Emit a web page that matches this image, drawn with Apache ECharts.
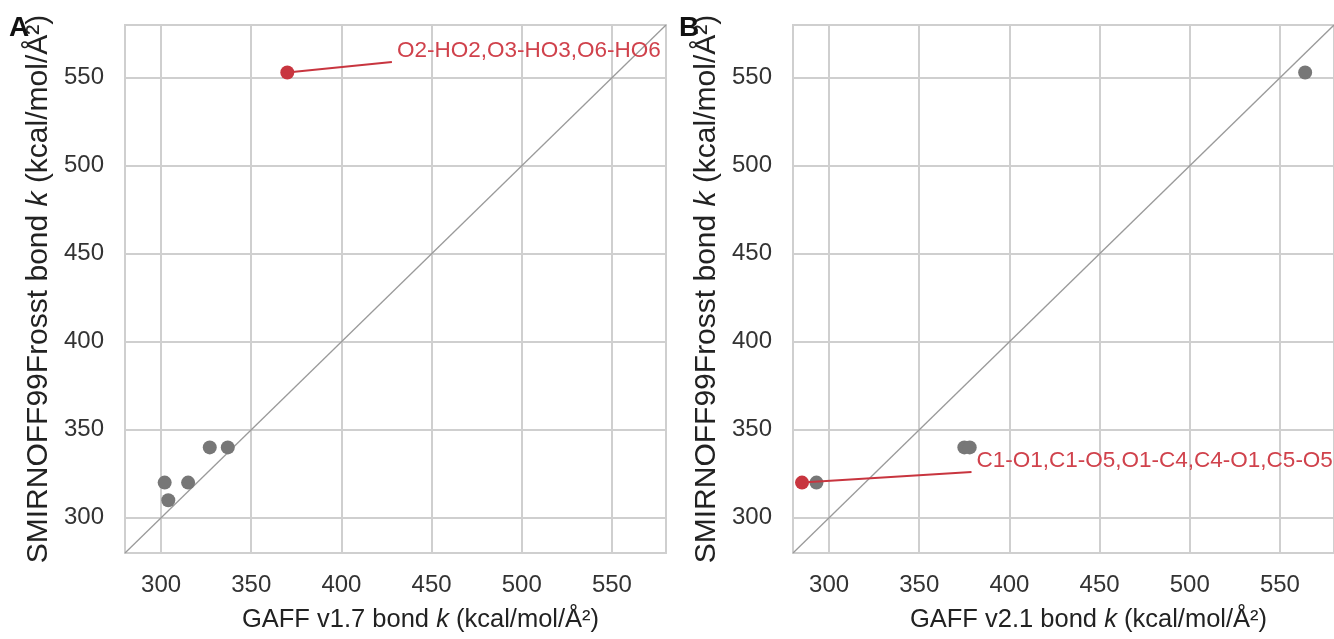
<!DOCTYPE html>
<html>
<head>
<meta charset="utf-8">
<script src="https://cdn.jsdelivr.net/npm/echarts@6/dist/echarts.min.js"></script>
<style>
  html, body { margin: 0; padding: 0; background: #fff; }
  #chart { width: 1334px; height: 639px; }
</style>
</head>
<body>
<div id="chart"></div>
<script>
// Bond force constants: GAFF (x) versus SMIRNOFF99Frosst (y), kcal/mol/Å²
const axisRange = [280, 580];
const tickValues = [300, 350, 400, 450, 500, 550];

// Panel A: GAFF v1.7
const gaffV17 = [302, 304, 315, 327, 337];
const frosstA = [320, 310, 320, 340, 340];
const outlierA_x = [370];
const outlierA_y = [553];
const outlierA_label = 'O2-HO2,O3-HO3,O6-HO6';
const calloutA_end = [428, 559];

// Panel B: GAFF v2.1
const gaffV21 = [293, 375, 378, 564];
const frosstB = [320, 340, 340, 553];
const outlierB_x = [285];
const outlierB_y = [320];
const outlierB_label = 'C1-O1,C1-O5,O1-C4,C4-O1,C5-O5';
const calloutB_end = [379, 326];

const FONT = 'Liberation Sans';
const GRID_COLOR = '#cfcfcf';
const GRAY = '#777777';
const RED = '#c8353f';

const zip = (xs, ys) => xs.map((x, i) => [x, ys[i]]);

function xAxis(gridIndex, version) {
  return {
    type: 'value', gridIndex, min: axisRange[0], max: axisRange[1],
    name: 'GAFF ' + version + ' bond {i|k} (kcal/mol/Å²)',
    nameLocation: 'middle', nameGap: 54,
    nameTextStyle: { fontFamily: FONT, fontSize: 25.5, color: '#222', padding: [0, 0, 0, 50],
      rich: { i: { fontFamily: FONT, fontSize: 25.5, fontStyle: 'italic', color: '#222' } } },
    axisLine: { show: false }, axisTick: { show: false, customValues: tickValues },
    axisLabel: { customValues: tickValues, fontFamily: FONT, fontSize: 24, color: '#333', margin: 20 },
    splitLine: { show: true, lineStyle: { color: GRID_COLOR, width: 2 } }
  };
}
function yAxis(gridIndex) {
  return {
    type: 'value', gridIndex, min: axisRange[0], max: axisRange[1],
    name: 'SMIRNOFF99Frosst bond {i|k} (kcal/mol/Å²)',
    nameLocation: 'middle', nameGap: 71, nameRotate: 90,
    nameTextStyle: { fontFamily: FONT, fontSize: 30, color: '#222',
      rich: { i: { fontFamily: FONT, fontSize: 30, fontStyle: 'italic', color: '#222' } } },
    axisLine: { show: false }, axisTick: { show: false, customValues: tickValues },
    axisLabel: { customValues: tickValues, fontFamily: FONT, fontSize: 24, color: '#333', margin: 21 },
    splitLine: { show: true, lineStyle: { color: GRID_COLOR, width: 2 } }
  };
}

function panelSeries(idx, xs, ys, ox, oy, label, calloutEnd) {
  const pt = zip(ox, oy)[0];
  return [
    { // identity line y = x
      type: 'line', xAxisIndex: idx, yAxisIndex: idx, silent: true, symbol: 'none',
      data: [[axisRange[0], axisRange[0]], [axisRange[1], axisRange[1]]],
      lineStyle: { color: '#9a9a9a', width: 1.3 }, z: 2
    },
    {
      type: 'scatter', xAxisIndex: idx, yAxisIndex: idx, data: zip(xs, ys),
      symbolSize: 14, itemStyle: { color: GRAY, opacity: 1 }, z: 4
    },
    { // callout connector with its label at the far end
      type: 'line', xAxisIndex: idx, yAxisIndex: idx, symbol: 'none',
      data: [pt, calloutEnd],
      endLabel: {
        show: true, distance: 5, offset: [0, -11],
        formatter: label, fontFamily: FONT, fontSize: 22.5, color: '#d0424c'
      },
      lineStyle: { color: RED, width: 2 }, z: 5
    },
    {
      type: 'scatter', xAxisIndex: idx, yAxisIndex: idx, data: zip(ox, oy),
      symbolSize: 14, itemStyle: { color: RED, opacity: 1 }, z: 6
    }
  ];
}

const chart = echarts.init(document.getElementById('chart'), null, { renderer: 'canvas' });
chart.setOption({
  backgroundColor: '#fff',
  animation: false,
  grid: [
    { left: 125, top: 25, width: 541, height: 528, show: true, borderColor: GRID_COLOR, borderWidth: 2, backgroundColor: 'transparent' },
    { left: 793, top: 25, width: 541, height: 528, show: true, borderColor: GRID_COLOR, borderWidth: 2, backgroundColor: 'transparent' }
  ],
  xAxis: [xAxis(0, 'v1.7'), xAxis(1, 'v2.1')],
  yAxis: [yAxis(0), yAxis(1)],
  series: [
    ...panelSeries(0, gaffV17, frosstA, outlierA_x, outlierA_y, outlierA_label, calloutA_end),
    ...panelSeries(1, gaffV21, frosstB, outlierB_x, outlierB_y, outlierB_label, calloutB_end)
  ],
  graphic: [
    { type: 'text', left: 9, top: 14, z: 100, style: { text: 'A', font: 'bold 28px "Liberation Sans"', fill: '#111' } },
    { type: 'text', left: 679, top: 14, z: 100, style: { text: 'B', font: 'bold 28px "Liberation Sans"', fill: '#111' } }
  ]
});
</script>
</body>
</html>
